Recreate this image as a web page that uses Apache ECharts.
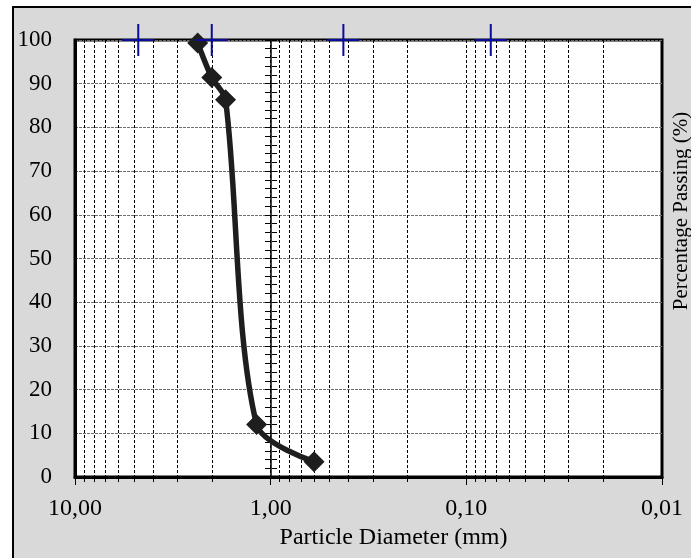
<!DOCTYPE html>
<html><head><meta charset="utf-8">
<script src="https://cdn.jsdelivr.net/npm/echarts@6/dist/echarts.min.js"></script>
<style>html,body{margin:0;padding:0;background:#fff}#c{width:691px;height:558px}</style>
</head><body><div id="c"></div>
<script>
// Data
const diameters = [2.36, 2.0, 1.7, 1.18, 0.6];
const passing = [99.3, 91.4, 86.3, 12.0, 3.5];
const sieveSizes = [4.75, 2.0, 0.425, 0.075];
const sieveMarkY = [100, 100, 100, 100];
const minorTickValues = [9,8,7,6,5,4,3,2,0.9,0.8,0.7,0.6,0.5,0.4,0.3,0.2,0.09,0.08,0.07,0.06,0.05,0.04,0.03,0.02];
const xTitle = 'Particle Diameter (mm)';
const yTitle = 'Percentage Passing (%)';

const FONT = 'Liberation Serif';
const chart = echarts.init(document.getElementById('c'), null, {renderer: 'canvas'});
const option = {
  animation: false,
  backgroundColor: '#ffffff',
  graphic: [
    {type: 'rect', z: -10, shape: {x: 13, y: 7, width: 700, height: 600},
     style: {fill: '#d9d9d9', stroke: '#000', lineWidth: 2}},
    {type: 'text', z: 10, x: 681, y: 211, rotation: Math.PI / 2,
     style: {text: yTitle, font: '21px "' + FONT + '"', fill: '#000', align: 'center', verticalAlign: 'middle'}}
  ],
  grid: [
    {left: 75, right: 29, top: 40, bottom: 81, show: true, backgroundColor: '#fff',
     borderColor: '#000', borderWidth: 3},
    // thin grid carrying the secondary vertical axis drawn at d = 1.00 mm
    {left: 271, right: 419, top: 40, bottom: 81, show: false}
  ],
  xAxis: [
    {type: 'log', logBase: 10, min: 0.01, max: 10, inverse: true, position: 'bottom', gridIndex: 0,
     name: xTitle, nameLocation: 'middle', nameGap: 48,
     nameTextStyle: {fontFamily: FONT, fontSize: 24, color: '#000', padding: [0, 0, 0, 50]},
     axisLine: {show: true, lineStyle: {color: '#000', width: 3}},
     axisTick: {show: true, length: 8, lineStyle: {color: '#000', width: 1}},
     axisLabel: {show: true, margin: 20, fontFamily: FONT, fontSize: 24, color: '#000',
                 showMinLabel: true, showMaxLabel: true, hideOverlap: false,
                 formatter: v => v.toFixed(2).replace('.', ',')},
     splitLine: {show: true, lineStyle: {color: '#000', width: 1, type: [3, 2]}}},
    {type: 'log', logBase: 10, min: 0.01, max: 10, inverse: true, position: 'bottom', gridIndex: 0,
     axisLine: {show: false},
     axisTick: {show: true, length: 5, customValues: minorTickValues, lineStyle: {color: '#000', width: 1}},
     axisLabel: {show: false},
     splitLine: {show: true, lineStyle: {color: '#000', width: 1, type: [3, 2]}}},
    {type: 'value', gridIndex: 1, show: false, min: 0, max: 1}
  ],
  yAxis: [
    {type: 'value', min: 0, max: 100, interval: 10, position: 'left', gridIndex: 0,
     axisLine: {show: true, lineStyle: {color: '#000', width: 3}},
     axisTick: {show: false},
     axisLabel: {margin: 23, fontFamily: FONT, fontSize: 23, color: '#000'},
     splitLine: {show: true, lineStyle: {color: '#6e6e6e', width: 1, type: [3, 1]}}},
    {type: 'value', min: 0, max: 100, interval: 2, position: 'left', gridIndex: 1,
     axisLine: {show: true, lineStyle: {color: '#000', width: 1.5}},
     axisTick: {show: true, inside: false, length: 6, lineStyle: {color: '#000', width: 1}},
     axisLabel: {show: false}, splitLine: {show: false}},
    {type: 'value', min: 0, max: 100, interval: 2, position: 'right', gridIndex: 1,
     axisLine: {show: false},
     axisTick: {show: true, inside: false, length: 5, lineStyle: {color: '#000', width: 1}},
     axisLabel: {show: false}, splitLine: {show: false}}
  ],
  series: [
    {type: 'line', xAxisIndex: 0, yAxisIndex: 0, clip: false, z: 3,
     data: diameters.map((d, i) => [d, passing[i]]),
     smooth: 0.3, symbol: 'diamond', symbolSize: 21,
     lineStyle: {color: '#1e1e1e', width: 5.5},
     itemStyle: {color: '#1e1e1e'}},
    {type: 'scatter', xAxisIndex: 0, yAxisIndex: 0, clip: false, z: 4,
     data: sieveSizes.map((d, i) => [d, sieveMarkY[i]]),
     symbol: 'path://M0,16L32,16M16,0L16,32', symbolSize: 32,
     itemStyle: {color: '#0b0b9e', borderColor: '#0b0b9e', borderWidth: 2, opacity: 1}}
  ]
};
chart.setOption(option);
</script></body></html>
